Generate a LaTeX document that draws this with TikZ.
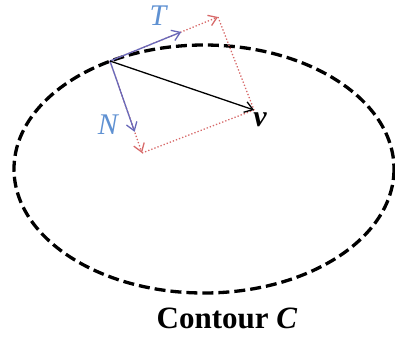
\documentclass[tikz,border=0pt]{standalone}
\usepackage{fontspec}
\setmainfont{Liberation Serif}
\usetikzlibrary{arrows.meta,positioning,calc}
\definecolor{tanblue}{RGB}{95,145,210}
\definecolor{vecblue}{RGB}{105,105,185}
\definecolor{projred}{RGB}{215,105,105}

\begin{document}
\begin{tikzpicture}[x=1pt,y=-1pt,
  vecline/.style={line width=1.3pt,-{Straight Barb[length=8pt,width=11pt]}},
  projline/.style={projred,line width=1.3pt,dotted},
  lbl/.style={font=\fontsize{30}{30}\selectfont\itshape,text=tanblue,inner sep=0pt}]
\useasboundingbox (0,0) rectangle (395,338);
\draw[line width=3.3pt,dash pattern=on 11pt off 5pt] (204,169) ellipse [x radius=190,y radius=124];
\coordinate (p) at (110,61);
\coordinate (v) at (254,110);
\coordinate (tproj) at (218,17);
\coordinate (nproj) at (142,153);
\coordinate (ttip) at ($(p)!0.66!(tproj)$);
\coordinate (ntip) at ($(p)!0.77!(nproj)$);
\draw[projline] (tproj)--(v);
\draw[projline] (nproj)--(v);
\draw[vecline,projred,dotted] (p)--(tproj);
\draw[vecline,projred,dotted] (p)--(nproj);
\draw[vecline,vecblue] (p)--(ttip);
\draw[vecline,vecblue] (p)--(ntip);
\draw[vecline,black] (p)--(v);
\node[lbl] (tlab) at (158,16) {T};
\node[lbl] (nlab) at (108,125) {N};
\node[font=\fontsize{30}{30}\selectfont\bfseries\itshape,inner sep=0pt] (vlab) at (260,120) {v};
\node[font=\fontsize{31}{31}\selectfont\bfseries,inner sep=0pt] (cont) at (227,318) {Contour \textit{C}};
\end{tikzpicture}
\end{document}
